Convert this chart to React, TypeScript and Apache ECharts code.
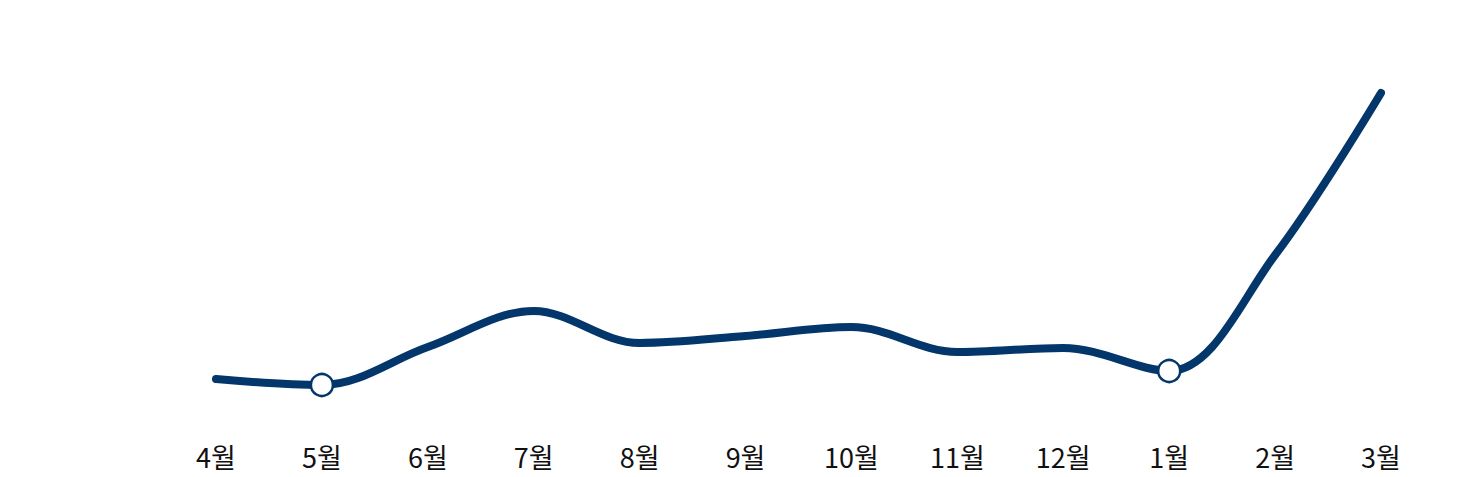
import React, { useEffect, useRef } from "react";
import * as echarts from "echarts";

const categories = ["4월", "5월", "6월", "7월", "8월", "9월", "10월", "11월", "12월", "1월", "2월", "3월"];
const values = [51, 45, 83, 119, 87, 94, 103, 78, 82, 59, 175, 337];
const markedMonths = ["5월", "1월"];

const NAVY = "#03366a";

export default function App() {
  const ref = useRef<HTMLDivElement>(null);
  useEffect(() => {
    if (!ref.current) return;
    const chart = echarts.init(ref.current, undefined, { renderer: "svg" });
    chart.setOption({
      animation: false,
      backgroundColor: "#ffffff",
      grid: { left: 216, right: 102, top: 40, height: 390, containLabel: false },
      xAxis: {
        type: "category",
        data: categories,
        boundaryGap: false,
        axisLine: { show: false },
        axisTick: { show: false },
        splitLine: { show: false },
        axisLabel: {
          color: "#111111",
          fontSize: 27,
          fontFamily: "Noto Sans CJK KR",
          margin: 13,
        },
      },
      yAxis: {
        type: "value",
        min: 0,
        max: 390,
        show: false,
        splitLine: { show: false },
      },
      series: [
        {
          type: "line",
          smooth: 0.35,
          data: values.map((v, i) =>
            markedMonths.includes(categories[i])
              ? { value: v, symbol: "circle", symbolSize: 22 }
              : { value: v, symbol: "none" }
          ),
          showSymbol: true,
          lineStyle: { color: NAVY, width: 8, cap: "round", join: "round" },
          itemStyle: { color: "#ffffff", borderColor: NAVY, borderWidth: 2.5 },
          z: 3,
        },
      ],
    });
    return () => chart.dispose();
  }, []);
  return (
    <div
      ref={ref}
      style={{ position: "fixed", left: 0, top: 0, width: 1483, height: 477, background: "#fff" }}
    />
  );
}
